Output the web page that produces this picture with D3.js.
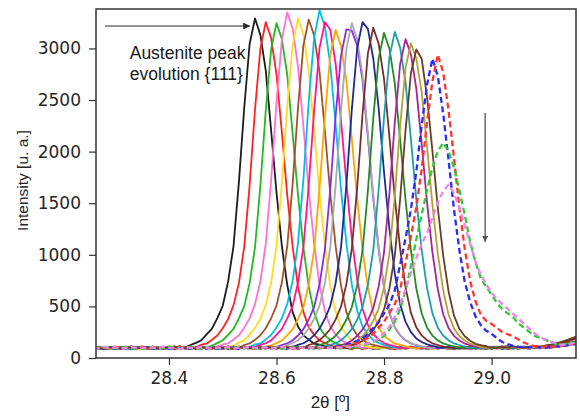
<!DOCTYPE html>
<html>
<head>
<meta charset="utf-8">
<script src="https://cdn.jsdelivr.net/npm/d3@7"></script>
<style>
  html, body { margin: 0; padding: 0; background: #fff; }
  svg { display: block; }
  .tick text { font-family: "DejaVu Sans", sans-serif; font-size: 17px; fill: #262626; }
  .tick line { stroke: #333; stroke-width: 1.2; }
</style>
</head>
<body>
<div id="chart"></div>
<script>
// 2θ grid, one reading every 0.01°
var twoTheta = d3.range(91).map(function (i) { return +(28.26 + i * 0.01).toFixed(2); });

// intensity scans, in the order they were plotted
var scan01 = [92,105,88,97,110,86,99,93,104,90, 101,87,96,108,92,99,112,104,124,146, 171,228,284,387,506,740,1082,1699,2425,3043, 3290,3131,2788,2203,1604,1083,707,444,306,219, 178,139,130,114,101,93,108,97,88,103, 95,110,86,99,104,91,97,112,89,101, 94,106,87,99,93,110,96,85,102,97, 108,92,99,87,104,96,111,90,98,93, 101,89,106,97,112,104,118,126,141,153, 168];
var scan02 = [97,86,103,94,108,91,99,88,105,96, 90,107,98,85,101,94,110,97,92,103, 129,139,177,218,289,376,510,722,1079,1671, 2406,2998,3255,3101,2745,2185,1576,1079,691,447, 297,224,171,145,123,109,96,104,91,100, 87,99,108,93,101,96,84,105,98,110, 92,99,88,103,95,107,90,98,111,94, 86,101,97,109,92,104,95,88,100,106, 93,99,112,101,108,116,124,139,158,176, 192];
var scan03 = [101,93,87,106,98,92,110,95,84,100, 108,96,91,103,88,99,105,93,100,111, 89,102,121,144,172,224,282,383,503,725, 1071,1672,2395,2993,3245,3088,2741,2174,1576,1072, 692,441,298,219,176,140,128,112,99,104, 92,108,97,86,103,95,110,99,91,105, 98,89,104,113,94,100,87,106,96,92, 109,97,88,102,95,111,99,93,104,90, 101,107,95,110,98,112,119,128,137,149, 161];
var scan04 = [88,99,106,94,101,110,90,97,104,86, 95,103,92,109,98,87,101,96,107,93, 100,91,105,112,131,141,179,221,294,384, 522,741,1108,1719,2476,3085,3350,3192,2824,2247, 1621,1108,709,456,303,228,173,147,125,108, 97,105,90,101,112,94,99,86,103,96, 108,93,100,89,104,97,111,92,98,106, 87,101,95,109,99,91,104,96,113,94, 100,92,106,98,109,103,114,121,133,146, 158];
var scan05 = [103,95,89,100,107,93,98,111,87,96, 104,91,99,108,95,86,102,97,110,92, 98,106,90,101,95,109,118,149,173,226, 291,379,514,731,1091,1692,2435,3035,3290,3138, 2779,2211,1595,1091,699,450,301,226,172,146, 124,111,98,104,92,107,95,100,89,103, 96,110,93,101,87,105,98,92,108,99, 94,103,88,111,97,100,106,91,99,95, 108,93,102,97,105,110,107,115,124,132, 141];
var scan06 = [96,104,92,99,87,108,101,94,97,110, 89,100,106,93,98,112,91,103,95,99, 107,94,101,88,104,97,109,93,125,141, 176,220,288,385,508,733,1083,1688,2424,3030, 3280,3125,2775,2200,1592,1084,700,445,305,220, 177,141,128,115,102,96,108,93,100,111, 97,105,90,102,113,96,99,107,94,101, 110,98,104,112,101,96,108,118,105,99, 111,103,116,109,120,127,138,152,171,189, 204];
var scan07 = [101,90,97,105,93,99,86,107,95,102, 94,109,99,91,104,96,88,101,110,97, 93,105,98,87,102,111,95,100,92,106, 132,140,180,223,295,386,525,746,1114,1728, 2490,3104,3370,3210,2842,2260,1630,1114,713,458, 305,229,174,147,126,112,99,105,93,101, 108,96,90,103,99,111,94,100,87,105, 97,102,109,93,100,106,89,98,104,95, 103,97,108,100,111,106,113,119,128,137, 145];
var scan08 = [98,107,94,89,103,96,110,92,100,105, 87,99,104,95,108,93,101,97,90,106, 102,94,111,98,88,105,97,103,93,100, 108,127,143,171,224,283,384,503,730,1072, 1678,2400,3005,3255,3180,2850,2300,1700,1160,760, 480,320,230,180,145,128,113,101,94,107, 99,92,105,110,96,101,88,104,97,93, 106,100,91,108,95,103,112,98,90,102, 96,105,99,93,108,104,110,117,126,134, 148];
var scan09 = [95,101,88,106,99,92,104,97,110,91, 100,94,107,89,103,98,112,95,101,86, 104,97,93,109,100,87,106,95,102,98, 91,105,110,123,144,169,221,277,376,492, 716,1047,1642,2343,2937,3180,3022,2690,2127,1549, 1047,685,431,298,215,175,138,129,112,100, 94,106,97,89,103,110,95,101,92,108, 99,93,105,101,88,107,96,102,94,109, 101,97,104,95,110,102,108,113,121,130, 138];
var scan10 = [103,96,91,107,99,88,102,95,109,97, 92,104,98,86,101,110,94,99,105,90, 97,108,93,101,89,104,96,111,99,94, 106,92,100,97,108,126,141,172,218,280, 373,496,712,1051,1638,2347,2933,3185,3172,3030, 2690,2134,1547,1053,682,435,296,219,172,141, 126,110,96,108,91,100,105,93,99,110, 88,102,97,106,94,101,109,92,98,104, 95,100,107,93,105,99,111,116,123,131, 142];
var scan11 = [99,92,105,101,87,96,108,94,100,103, 110,95,89,102,97,106,93,100,91,107, 98,104,88,99,111,95,102,90,105,97, 93,108,100,86,103,97,124,145,172,221, 286,380,507,727,1074,1675,2396,2995,3245,3090, 2743,2176,1578,1074,693,442,300,221,174,142, 126,112,101,95,107,98,90,104,96,109, 93,100,106,91,103,98,110,95,101,87, 104,97,109,100,94,106,112,118,125,133, 141];
var scan12 = [104,97,90,101,108,93,99,86,105,96, 100,111,94,98,103,89,107,96,92,101, 95,106,99,88,102,110,97,93,104,100, 91,103,98,109,94,100,87,105,127,143, 174,221,285,380,506,727,1075,1675,2402,3002, 3255,3190,2900,2420,1800,1250,820,520,350,250, 190,155,132,118,104,97,109,93,100,106, 98,91,103,110,95,101,88,106,99,94, 107,100,96,111,103,108,115,124,136,147, 160];
var scan13 = [93,102,98,107,89,100,95,110,97,104, 91,99,106,94,101,88,103,97,109,95, 100,92,105,98,111,96,87,102,99,106, 94,108,97,101,90,104,99,112,93,100, 126,142,173,219,281,374,499,716,1058,1648, 2362,2952,3200,3045,2703,2144,1554,1058,685,437, 297,219,173,142,126,111,98,104,92,100, 107,95,101,109,93,99,105,90,103,97, 110,102,96,105,112,118,129,143,162,181, 199];
var scan14 = [106,95,101,89,98,104,92,109,97,100, 103,90,97,108,94,101,112,96,88,105, 99,104,93,100,107,91,98,110,95,102, 97,88,106,101,94,109,100,93,104,98, 92,107,126,141,171,217,278,370,492,706, 1042,1623,2325,2906,3150,2997,2661,2111,1531,1042, 675,431,294,217,171,141,126,112,99,105, 93,101,108,96,90,103,99,111,94,100, 106,97,103,99,108,113,120,128,139,150, 163];
var scan15 = [97,104,91,100,108,95,102,89,106,99, 93,110,98,103,87,101,96,107,92,100, 105,96,101,90,109,99,94,103,97,111, 88,102,97,106,100,93,108,95,101,104, 96,90,105,112,127,143,172,219,279,371, 494,709,1046,1630,2333,2916,3160,3006,2670,2118, 1536,1046,677,432,294,218,171,141,126,110, 98,104,93,101,107,95,100,109,91,103, 99,106,94,102,110,105,112,120,127,136, 144];
var scan16 = [101,94,99,108,90,103,96,105,92,100, 107,98,93,102,111,95,100,88,104,97, 92,101,106,97,89,103,110,94,99,105, 100,95,108,91,102,97,104,99,87,106, 98,103,94,109,100,112,125,140,170,215, 275,365,485,694,1024,1593,2281,2850,3090,2940, 2611,2072,1503,1024,664,424,290,215,170,140, 125,110,102,96,107,93,101,98,105,94, 100,108,97,104,109,113,117,125,131,140, 148];
var scan17 = [95,103,99,88,106,100,93,109,97,102, 90,104,98,107,95,101,86,103,99,110, 96,100,105,92,108,97,101,94,103,89, 106,99,93,102,110,96,100,107,91,104, 97,103,92,100,108,95,111,125,139,169, 213,272,361,479,686,1011,1573,2252,2814,3050, 2902,2577,2045,1484,1011,656,420,287,213,169, 139,125,108,99,105,93,102,97,110,96, 101,94,106,99,104,111,116,124,133,141, 152];
var scan18 = [102,96,89,105,99,93,108,100,95,104, 98,107,91,101,96,110,94,100,103,88, 105,99,94,108,101,92,97,106,100,95, 91,103,98,109,94,100,105,89,102,97, 106,93,101,98,110,95,103,99,124,138, 167,211,269,356,471,674,992,1543,2208,2759, 2990,2900,2527,2006,1456,992,645,413,283,211, 167,138,124,112,104,97,108,101,113,106, 99,110,117,108,121,130,141,156,174,193, 211];
var scan19 = [99,107,93,101,88,104,97,110,95,100, 106,92,99,103,89,108,96,101,94,105, 98,91,104,100,109,95,102,87,106,97, 101,110,94,99,105,92,103,98,90,107, 96,102,109,98,105,111,117,129,145,165, 193,235,291,347,432,516,656,908,1161,1441, 1806,2255,2648,2900,2732,2367,1918,1441,1049,740, 544,404,319,263,235,190,155,135,118,108, 109,101,112,104,97,108,115,110,122,131, 138];
var scan20 = [104,96,100,91,108,99,94,103,97,110, 89,101,106,95,100,92,109,98,104,93, 107,99,90,102,96,111,94,100,105,88, 98,104,93,107,101,95,110,97,92,103, 100,108,95,102,97,106,109,118,129,146, 166,195,237,294,351,436,522,664,920,1176, 1461,1830,2286,2684,2940,2769,2399,1944,1461,1062, 749,550,420,360,330,290,250,230,210,180, 150,130,115,108,112,104,115,121,130,139, 147];
var scan21 = [96,103,99,108,92,100,105,94,101,89, 107,97,102,93,110,98,95,104,100,91, 99,106,94,101,88,103,97,109,96,102, 93,100,107,98,104,91,102,96,110,99, 105,94,100,108,97,103,92,110,101,112, 125,135,155,175,214,274,354,473,652,891, 1150,1389,1627,1846,2005,2085,2005,1846,1627,1389, 1130,931,772,692,612,533,473,433,394,334, 294,254,214,195,175,155,135,130,139,146, 152];
var scan22 = [101,94,108,97,103,90,99,106,95,100, 92,104,98,110,96,101,89,105,99,94, 108,100,93,102,97,106,91,103,99,110, 95,101,104,89,100,107,96,93,105,98, 102,97,109,94,100,106,98,111,104,115, 128,143,158,190,238,301,396,523,666,824, 967,1109,1205,1363,1506,1617,1680,1601,1458,1284, 1109,935,808,713,634,571,523,475,428,380, 333,285,238,206,174,158,143,127,132,141, 149];

var scans = [scan01, scan02, scan03, scan04, scan05, scan06, scan07, scan08, scan09, scan10, scan11,
             scan12, scan13, scan14, scan15, scan16, scan17, scan18, scan19, scan20, scan21, scan22];
var scanColors = ["#1c1c1c", "#ff2222", "#22b822", "#ff70d8", "#ffdc1e", "#a0522d", "#00bfe6", "#ff1493",
                  "#ffa500", "#8a2be2", "#a9a9a9", "#1f2a8c", "#7b2c2c", "#228b22", "#1aa0a8", "#a8249a",
                  "#b5a03a", "#6b3d24", "#2b2bff", "#ff3333", "#2ecc2e", "#ee82ee"];
var scanDashed = [false, false, false, false, false, false, false, false, false, false, false,
                  false, false, false, false, false, false, false, true, true, true, true];

var xTicks = [28.4, 28.6, 28.8, 29.0];
var yTicks = [0, 500, 1000, 1500, 2000, 2500, 3000];

// annotations, in data units
var arrowTop = [[28.281, 3217], [28.551, 3217]];
var arrowDown = [[28.988, 2374], [28.988, 1124]];
var noteLines = ["Austenite peak", "evolution {111}"];
var noteAt = [28.327, 2897];

var W = 580, H = 416;
var margin = { top: 9, right: 4, bottom: 58, left: 96 };
var plotW = W - margin.left - margin.right;
var plotH = H - margin.top - margin.bottom;

var x = d3.scaleLinear().domain([28.2643, 29.157]).range([0, plotW]);
var y = d3.scaleLinear().domain([0, 3382]).range([plotH, 0]);

var svg = d3.select("#chart").append("svg")
    .attr("width", W)
    .attr("height", H);

var defs = svg.append("defs");
defs.append("clipPath").attr("id", "plot-clip")
    .append("rect")
    .attr("width", plotW)
    .attr("height", plotH);
defs.append("marker")
    .attr("id", "head-dark")
    .attr("viewBox", "0 0 10 10")
    .attr("refX", 10).attr("refY", 5)
    .attr("markerWidth", 9).attr("markerHeight", 7)
    .attr("markerUnits", "userSpaceOnUse")
    .attr("orient", "auto")
    .append("path").attr("d", "M0,0L10,5L0,10z").attr("fill", "#2a2a2a");
defs.append("marker")
    .attr("id", "head-grey")
    .attr("viewBox", "0 0 10 10")
    .attr("refX", 10).attr("refY", 5)
    .attr("markerWidth", 7).attr("markerHeight", 6)
    .attr("markerUnits", "userSpaceOnUse")
    .attr("orient", "auto")
    .append("path").attr("d", "M0,0L10,5L0,10z").attr("fill", "#555");

var g = svg.append("g")
    .attr("transform", "translate(" + margin.left + "," + margin.top + ")");

var line = d3.line()
    .x(function (d, i) { return x(twoTheta[i]); })
    .y(function (d) { return y(d); });

g.append("g")
    .attr("clip-path", "url(#plot-clip)")
    .selectAll("path")
    .data(scans)
    .enter().append("path")
    .attr("d", line)
    .attr("fill", "none")
    .attr("stroke", function (d, i) { return scanColors[i]; })
    .attr("stroke-width", function (d, i) { return scanDashed[i] ? 2.3 : 1.8; })
    .attr("stroke-dasharray", function (d, i) { return scanDashed[i] ? "6,3.5" : null; })
    .attr("stroke-linejoin", "round");

// axes
var xAxis = g.append("g")
    .attr("transform", "translate(0," + plotH + ")")
    .call(d3.axisBottom(x).tickValues(xTicks).tickFormat(d3.format(".1f")).tickSize(7).tickPadding(7));
xAxis.select(".domain").remove();

var yAxis = g.append("g")
    .call(d3.axisLeft(y).tickValues(yTicks).tickFormat(d3.format("d")).tickSize(7).tickPadding(8));
yAxis.select(".domain").remove();

// frame
g.append("rect")
    .attr("width", plotW)
    .attr("height", plotH)
    .attr("fill", "none")
    .attr("stroke", "#333")
    .attr("stroke-width", 1.5);

// axis titles
svg.append("text")
    .attr("transform", "translate(28," + (margin.top + y(1720)) + ") rotate(-90)")
    .attr("text-anchor", "middle")
    .style("font-family", "'Liberation Sans', Arial, sans-serif")
    .style("font-size", "15.5px")
    .style("fill", "#262626")
    .text("Intensity [u. a.]");

svg.append("text")
    .attr("x", margin.left + x(28.7))
    .attr("y", 408)
    .attr("text-anchor", "middle")
    .style("font-family", "'Liberation Sans', Arial, sans-serif")
    .style("font-size", "17px")
    .style("fill", "#262626")
    .text("2θ [º]");

// annotations
g.append("line")
    .attr("x1", x(arrowTop[0][0])).attr("y1", y(arrowTop[0][1]))
    .attr("x2", x(arrowTop[1][0])).attr("y2", y(arrowTop[1][1]))
    .attr("stroke", "#2a2a2a")
    .attr("stroke-width", 1)
    .attr("marker-end", "url(#head-dark)");

g.append("line")
    .attr("x1", x(arrowDown[0][0])).attr("y1", y(arrowDown[0][1]))
    .attr("x2", x(arrowDown[1][0])).attr("y2", y(arrowDown[1][1]))
    .attr("stroke", "#555")
    .attr("stroke-width", 1.3)
    .attr("marker-end", "url(#head-grey)");

g.append("text")
    .attr("x", x(noteAt[0]))
    .attr("y", y(noteAt[1]))
    .style("font-family", "'Liberation Sans', Arial, sans-serif")
    .style("font-size", "17.5px")
    .style("fill", "#1a1a1a")
    .selectAll("tspan")
    .data(noteLines)
    .enter().append("tspan")
    .attr("x", x(noteAt[0]))
    .attr("dy", function (d, i) { return i === 0 ? 0 : 21; })
    .text(function (d) { return d; });
</script>
</body>
</html>
